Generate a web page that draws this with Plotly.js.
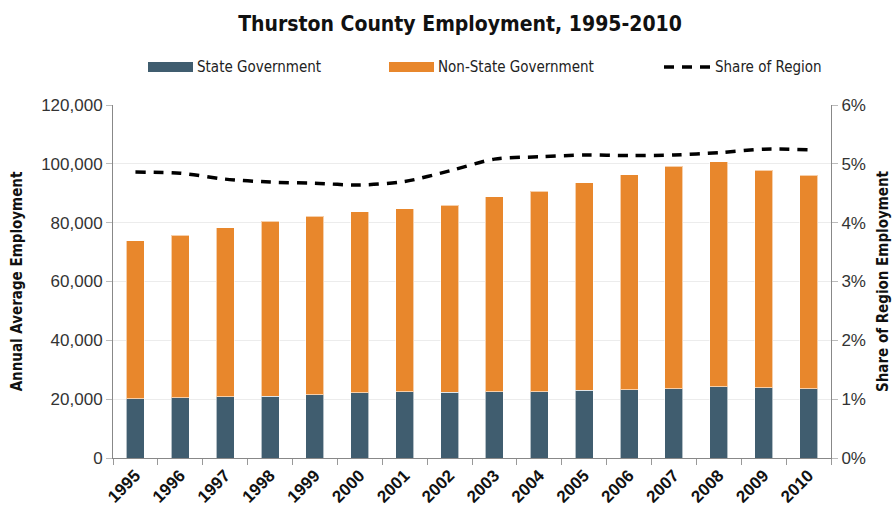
<!DOCTYPE html>
<html>
<head>
<meta charset="utf-8">
<script src="https://cdn.plot.ly/plotly-3.0.1.min.js"></script>
<style>
  html, body { margin: 0; padding: 0; background: #fff; }
  #chart { width: 892px; height: 507px; }
</style>
</head>
<body>
<div id="chart"></div>
<script>
/* Thurston County employment, 1995-2010 */

const years = ['1995','1996','1997','1998','1999','2000','2001','2002',
               '2003','2004','2005','2006','2007','2008','2009','2010'];

// state government jobs
const stateGov = [20200, 20500, 20800, 21000, 21500, 22100, 22500, 22300,
                  22500, 22500, 23100, 23200, 23600, 24200, 23900, 23600];

// total employment (bar tops)
const totalEmp = [73800, 75800, 78200, 80500, 82200, 83700, 84800, 86000,
                  88800, 90700, 93500, 96300, 99200, 100700, 97800, 96100];

// share of region employment
const shareRegion = [0.0486, 0.0484, 0.0474, 0.0469, 0.0467, 0.0464, 0.0470, 0.0488,
                     0.0508, 0.0512, 0.0515, 0.0514, 0.0515, 0.0519, 0.0525, 0.0524];

const nonStateGov = totalEmp.map((t, i) => t - stateGov[i]);

/* colours + fonts */
const C_STATE = '#405d6f';
const C_OTHER = '#e8872c';
const NARROW  = '"DejaVu Sans Condensed", "Liberation Sans Narrow", Arial, sans-serif';
const PLAIN   = '"Liberation Sans", Arial, sans-serif';

const traces = [
  {
    x: years, y: stateGov, type: 'bar', name: 'State Government',
    marker: { color: C_STATE, line: { color: 'rgba(255,255,255,0.6)', width: 1 } }
  },
  {
    x: years, y: nonStateGov, type: 'bar', name: 'Non-State Government',
    marker: { color: C_OTHER, line: { color: 'rgba(255,255,255,0.6)', width: 1 } }
  },
  {
    x: years, y: shareRegion, type: 'scatter', mode: 'lines', yaxis: 'y2',
    name: 'Share of Region',
    line: { color: '#000', width: 3.5, dash: '10px,8px', shape: 'spline', smoothing: 0.8 }
  }
];

/* legend drawn by hand: wide swatches like the original */
const legendItems = [
  { x0: 148, text: 'State Government',     kind: 'bar',  color: C_STATE },
  { x0: 389, text: 'Non-State Government', kind: 'bar',  color: C_OTHER },
  { x0: 664, text: 'Share of Region',      kind: 'line', color: '#000' }
];
const LEG_Y = 67;
const shapes = [];
const annotations = [];
legendItems.forEach(it => {
  if (it.kind === 'bar') {
    shapes.push({ type: 'rect', xref: 'paper', yref: 'paper',
      x0: (it.x0 - 113) / 718, x1: (it.x0 + 45 - 113) / 718,
      y0: (458 - LEG_Y - 5) / 353, y1: (458 - LEG_Y + 5) / 353,
      fillcolor: it.color, line: { width: 0 } });
  } else {
    shapes.push({ type: 'line', xref: 'paper', yref: 'paper',
      x0: (it.x0 - 113) / 718, x1: (it.x0 + 47 - 113) / 718,
      y0: (458 - LEG_Y) / 353, y1: (458 - LEG_Y) / 353,
      line: { color: it.color, width: 3.5, dash: '10px,8px' } });
  }
  annotations.push({ xref: 'paper', yref: 'paper', showarrow: false,
    x: (it.x0 + (it.kind === 'bar' ? 47 : 49) - 113) / 718, y: (458 - LEG_Y) / 353,
    xanchor: 'left', yanchor: 'middle', text: it.text,
    font: { family: NARROW, size: 15, color: '#222' } });
});

const layout = {
  width: 892, height: 507,
  margin: { l: 113, r: 61, t: 105, b: 49 },
  paper_bgcolor: '#fff', plot_bgcolor: '#fff',
  barmode: 'stack', bargap: 0.6,
  showlegend: false,
  title: {
    text: '<b>Thurston County Employment, 1995-2010</b>',
    x: 460 / 892, xanchor: 'center', y: 0.953, yanchor: 'middle',
    font: { family: NARROW, size: 21, color: '#111' }
  },
  xaxis: {
    type: 'category', tickangle: -45,
    tickson: 'boundaries', ticks: 'outside', ticklen: 6, tickcolor: '#999',
    showline: true, linecolor: '#888', linewidth: 1,
    showgrid: false,
    tickfont: { family: PLAIN, size: 17, color: '#111', weight: 'bold' }
  },
  yaxis: {
    range: [0, 120000], dtick: 20000, tickformat: ',',
    ticks: 'outside', ticklen: 6, tickcolor: '#bbb',
    showline: true, linecolor: '#888', linewidth: 1,
    gridcolor: '#ececec', zeroline: false,
    tickfont: { family: PLAIN, size: 17, color: '#333' },
    title: { text: '<b>Annual Average Employment</b>', standoff: 14,
             font: { family: NARROW, size: 15, color: '#111' } }
  },
  yaxis2: {
    overlaying: 'y', side: 'right',
    range: [0, 0.06], dtick: 0.01, tickformat: '.0%',
    ticks: 'outside', ticklen: 6, tickcolor: '#bbb',
    showline: true, linecolor: '#888', linewidth: 1,
    showgrid: false, zeroline: false,
    tickfont: { family: PLAIN, size: 17, color: '#333' },
    title: { text: '<b>Share of Region Employment</b>', standoff: 12,
             font: { family: NARROW, size: 15, color: '#111' } }
  },
  shapes: shapes,
  annotations: annotations
};

Plotly.newPlot('chart', traces, layout, { displayModeBar: false, staticPlot: true });
</script>
</body>
</html>
